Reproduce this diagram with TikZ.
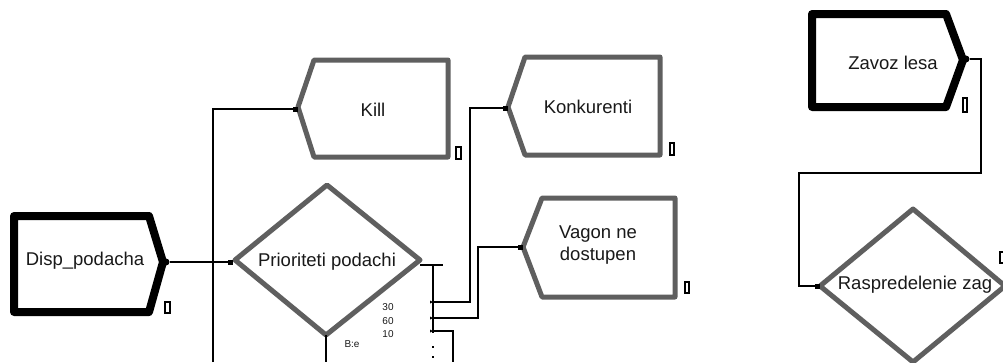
\documentclass[tikz,border=0pt]{standalone}
\usepackage{fontspec}
\setmainfont{Liberation Sans}
\definecolor{shapegray}{RGB}{95,95,95}
\definecolor{txtcol}{RGB}{25,25,25}
\begin{document}
\begin{tikzpicture}[x=1pt,y=-1pt,
  blackshape/.style={draw=black,line width=8pt,line join=round,fill=white},
  grayshape/.style={draw=shapegray,line width=5pt,line join=round,fill=white},
  lbl/.style={font=\fontsize{18.5}{22}\selectfont,text=txtcol,inner sep=0pt,align=center},
  smalllbl/.style={font=\fontsize{10}{14}\selectfont,text=txtcol,inner sep=0pt,align=center},
  conn/.style={draw=black,line width=1.8pt},
  ind/.style={draw=black,line width=1.3pt,fill=white},
  sq/.style={fill=black,minimum size=5pt,inner sep=0pt,outer sep=0pt},
  dotnode/.style={fill=black,circle,minimum size=7pt,inner sep=0pt,outer sep=0pt},
  tinydot/.style={fill=black,minimum size=2.5pt,inner sep=0pt,outer sep=0pt},
]
\useasboundingbox (0,0) rectangle (1003,362);
\clip (0,0) rectangle (1003,362);

% ---------- connector points ----------
\coordinate (killvert) at (213,362);
\coordinate (killcorner) at (213,109);
\coordinate (priobot) at (326,335);
\coordinate (priobotend) at (326,362);
\coordinate (prioright) at (420,265);
\coordinate (bar) at (443,265);
\coordinate (vtop) at (433,265);
\coordinate (vbot) at (433,333);
\coordinate (b1) at (433,302);
\coordinate (b2) at (433,318);
\coordinate (b3) at (433,331);
\coordinate (b3end) at (453,362);

% ---------- shapes ----------
% Disp_podacha
\draw[blackshape] (14,216) -- (149,216) -- (163,262) -- (149,312) -- (14,312) -- cycle;
\node[lbl] (disp) at (85,261) {Disp\_podacha};
\node[dotnode] (dispout) at (166,262) {};
\draw[ind] (165,302) rectangle (170,313);

% Kill
\draw[grayshape] (298,107) -- (314,60) -- (448,60) -- (448,157) -- (314,157) -- cycle;
\node[lbl] (kill) at (373,110) {Kill};
\node[sq] (killin) at (295,109) {};
\draw[ind] (456,147) rectangle (461,159);

% Konkurenti
\draw[grayshape] (508,107) -- (525,57) -- (660,57) -- (660,155) -- (525,155) -- cycle;
\node[lbl] (konk) at (588,107) {Konkurenti};
\node[sq] (konkin) at (505,108) {};
\draw[ind] (670,143) rectangle (674,155);

% Vagon ne dostupen
\draw[grayshape] (523,247) -- (542,198) -- (675,198) -- (675,297) -- (542,297) -- cycle;
\node[lbl] (vagon) at (598,245) {Vagon ne\\dostupen};
\node[sq] (vagonin) at (520,247) {};
\draw[ind] (685,282) rectangle (689,293);

% Prioriteti podachi
\draw[grayshape] (235,260) -- (327,185) -- (420,260) -- (326,335) -- cycle;
\node[lbl] (prio) at (327,262) {Prioriteti podachi};
\node[sq] (prioin) at (230,262) {};
\node[smalllbl] (p30) at (388,307) {30};
\node[smalllbl] (p60) at (388,321) {60};
\node[smalllbl] (p10) at (388,334) {10};
\node[smalllbl] (pbe) at (352,344) {B:e};

% Zavoz lesa
\draw[blackshape] (812,14) -- (946,14) -- (963,60) -- (946,107) -- (812,107) -- cycle;
\node[lbl] (zavoz) at (893,63) {Zavoz lesa};
\node[dotnode] (zavozout) at (966,59) {};
\draw[ind] (963,98) rectangle (967,112);

% Raspredelenie zag
\draw[grayshape] (820,286) -- (913,209) -- (1005,286) -- (913,362) -- cycle;
\node[lbl] (rasp) at (915,285) {Raspredelenie zag};
\node[sq] (raspin) at (817,286) {};
\draw[ind] (1000,252) rectangle (1006,263);

% ---------- connector lines ----------
\draw[conn] (dispout) -- (prioin);
\draw[conn] (killvert) -- (killcorner) -- (killin);
\draw[conn] (priobot) -- (priobotend);
\draw[conn] (prioright) -- (bar);
\draw[conn] (vtop) -- (vbot);
\draw[conn] (b1) -- (470,302) |- (konkin);
\draw[conn] (b2) -- (478,318) |- (vagonin);
\draw[conn] (b3) -| (b3end);
\foreach \yy in {302,318,331} {\fill (430,\yy-1.5) -- (433,\yy) -- (430,\yy+1.5) -- cycle;}
\node[tinydot] (d1) at (433,347) {};
\node[tinydot] (d2) at (433,357) {};
\draw[conn] (zavozout) -- (981,59) -- (981,173) -- (799,173) -- (799,286) -- (raspin);
\end{tikzpicture}
\end{document}
